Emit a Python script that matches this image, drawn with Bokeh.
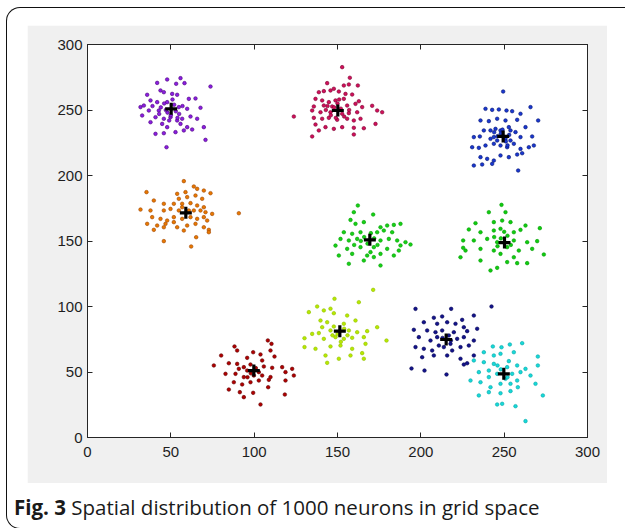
from bokeh.plotting import figure
from bokeh.layouts import column
from bokeh.models import Range1d, LinearAxis, FixedTicker, ColumnDataSource, Div
from bokeh.embed import file_html
from bokeh.resources import INLINE

# ---- data ----
purple = [(47.8,273.3),(55.8,274.3),(41.8,270.7),(53.2,270.0),(58.2,270.5),(73.8,267.9),(43.8,264.9),(45.8,263.6),(50.8,262.3),(35.8,261.6),(53.8,261.6),(60.8,258.5),(64.8,258.8),(37.8,257.3),(41.8,256.0),(47.8,256.0),(31.8,252.2),(33.8,253.4),(36.8,249.6),(42.8,249.6),(54.8,252.2),(59.8,250.9),(67.8,251.7),(32.8,245.8),(40.8,244.5),(45.8,243.3),(49.8,244.5),(53.8,242.0),(56.8,243.3),(61.8,245.0),(37.8,240.7),(44.8,239.4),(55.8,239.4),(59.8,236.9),(47.8,236.9),(40.8,231.8),(45.8,232.3),(52.8,233.1),(57.8,234.4),(62.8,235.1),(69.8,236.9),(70.8,227.2),(47.4,221.6),(65.8,243.3),(44.0,252.0),(48.0,248.0),(52.0,254.0),(46.0,255.0),(55.0,247.0),(50.0,246.0),(43.0,247.0),(57.0,253.0),(51.0,258.0),(49.0,242.0),(54.0,244.0),(39.0,253.0),(47.0,250.0),(53.0,249.0)]
crimson = [(152.8,282.7),(157.4,274.6),(143.8,270.5),(147.8,266.2),(153.8,268.7),(156.8,269.5),(162.2,268.7),(138.8,263.6),(141.8,264.4),(145.8,264.9),(150.8,264.1),(154.8,262.3),(158.8,261.8),(136.8,258.5),(140.8,257.3),(144.8,256.0),(148.8,257.3),(153.8,258.5),(162.8,256.7),(135.8,252.7),(141.8,253.4),(146.8,252.7),(155.8,253.4),(160.8,254.7),(164.8,252.2),(170.8,253.2),(134.8,249.6),(139.8,248.3),(145.8,248.3),(152.8,247.1),(156.8,247.6),(161.8,248.3),(173.8,249.6),(176.8,248.3),(123.8,245.0),(135.8,244.0),(140.8,243.3),(144.8,244.0),(149.8,242.5),(155.8,243.3),(159.8,242.0),(163.8,243.3),(172.8,239.4),(136.8,238.9),(142.8,236.9),(147.8,235.6),(152.8,236.9),(159.8,236.4),(165.8,236.1),(138.8,234.4),(134.8,229.8),(159.8,231.3),(148,252),(152,251),(146,246),(154,245),(150,255),(143,250),(157,250),(149,244),(144,253),(151,258)]
blue = [(249.4,264.1),(238.8,250.9),(242.8,250.1),(246.8,250.4),(251.4,249.6),(254.8,249.1),(259.8,247.1),(265.8,252.2),(270.4,242.0),(235.8,242.0),(240.8,241.5),(245.8,243.3),(250.8,242.0),(257.8,242.5),(262.8,236.9),(231.8,229.3),(235.4,229.8),(237.8,234.4),(241.8,234.4),(244.8,235.6),(247.8,234.4),(253.8,234.4),(256.8,233.1),(259.8,229.3),(266.8,229.8),(230.8,221.6),(234.8,221.1),(238.8,222.9),(243.8,224.2),(247.8,222.9),(251.8,221.6),(255.8,224.2),(259.8,220.3),(264.8,221.6),(267.8,222.9),(235.8,214.0),(239.8,212.7),(243.8,211.4),(247.8,215.3),(252.8,214.0),(257.8,216.0),(260.8,217.0),(231.8,207.6),(236.8,208.4),(242.8,208.9),(258.4,203.8),(245.8,226.7),(250.8,228.0),(253.8,226.7),(243.8,229.3),(252.8,236.9),(241.8,228.0),(248,232),(251,226),(246,230),(253,231),(249,235),(244,233),(252,223)]
orange = [(57.8,195.7),(63.8,191.6),(53.8,186.0),(58.8,187.3),(65.8,189.8),(69.8,188.5),(73.8,186.5),(35.4,187.3),(39.8,180.9),(54.8,182.2),(59.8,183.5),(64.8,184.7),(68.8,182.2),(45.8,178.4),(51.8,178.4),(56.8,178.4),(61.8,178.9),(65.8,177.1),(69.8,175.8),(31.8,174.0),(37.8,173.3),(45.8,173.3),(49.8,174.5),(54.8,173.3),(63.8,173.3),(67.8,173.3),(70.8,172.0),(74.8,170.7),(90.8,171.2),(38.8,168.2),(43.8,166.9),(47.8,165.6),(51.8,164.4),(56.8,166.9),(61.8,168.2),(65.8,166.9),(69.8,168.2),(71.8,165.6),(35.8,163.1),(41.8,161.8),(46.8,163.1),(53.8,160.5),(59.8,161.8),(64.8,163.1),(69.8,160.5),(72.8,158.5),(39.8,158.5),(45.8,160.5),(57.8,158.0),(72.8,156.7),(45.8,149.9),(65.2,152.9),(62.2,145.8),(51.8,168.2),(56.8,175.8),(60.8,173.3)]
green1 = [(162.2,177.1),(159.8,172.0),(171.4,170.2),(157.8,166.1),(160.8,163.1),(165.8,164.4),(175.8,160.5),(179.8,161.8),(183.8,162.3),(187.8,163.1),(153.8,156.7),(158.8,155.5),(163.8,156.7),(173.8,156.7),(177.8,158.0),(182.8,156.7),(151.8,151.6),(156.8,150.4),(161.8,151.6),(175.8,150.4),(180.8,151.6),(185.8,150.4),(190.8,149.1),(193.8,147.3),(148.8,146.5),(155.8,144.0),(163.8,145.3),(171.8,145.3),(179.8,144.0),(186.8,142.7),(150.8,138.9),(158.8,140.2),(167.8,138.9),(175.8,140.2),(183.8,138.9),(156.8,132.6),(165.8,135.1),(175.8,131.3),(171.8,137.7),(169.8,141.5),(187.8,146.6),(166,153),(172,152),(168,148),(164,150),(174,147),(170,156),(160,147)]
green2 = [(248.4,177.6),(240.8,172.0),(250.8,172.0),(232.8,163.6),(243.8,164.4),(248.8,165.6),(253.8,164.4),(262.8,161.8),(271.4,159.8),(228.8,158.8),(235.8,156.7),(243.8,158.0),(247.8,159.3),(255.8,156.7),(259.8,158.5),(225.4,150.4),(231.8,150.4),(239.8,151.6),(245.8,149.1),(255.8,150.4),(263.8,149.1),(269.8,149.9),(226.8,142.7),(235.8,144.0),(243.8,142.7),(251.8,145.3),(258.8,142.7),(266.8,144.0),(273.8,139.7),(223.8,137.6),(255.8,137.6),(225.4,144.8),(235.8,135.1),(241.8,127.5),(245.8,129.5),(251.8,133.9),(257.8,133.1),(263.8,133.1),(247.8,140.2),(248,152),(252,154),(246,146),(254,147),(250,157),(244,153)]
lime = [(171.4,112.7),(148.2,105.9),(137.8,100.0),(145.8,98.3),(162.8,103.3),(132.8,95.7),(141.8,97.0),(147.8,94.9),(155.8,93.1),(160.8,89.3),(139.8,89.3),(143.8,88.0),(173.8,84.2),(134.8,79.1),(138.8,79.7),(145.8,81.7),(156.8,81.7),(161.8,80.4),(167.8,81.2),(130.2,75.8),(141.8,75.3),(148.8,76.6),(153.8,75.3),(158.8,76.1),(165.8,76.6),(179.4,74.0),(130.2,69.0),(136.8,67.7),(145.8,69.5),(151.8,70.2),(158.8,67.7),(166.8,71.5),(142.8,62.6),(150.8,60.1),(157.8,62.6),(164.8,64.4),(165.8,60.1),(143.8,57.0),(147.8,84.7),(153.8,86.8),(140.8,84.2),(150,79),(154,83),(147,78),(156,78),(152,73)]
navy = [(196.8,98.2),(218.2,98.2),(242.4,100.0),(207.8,91.4),(212.8,92.4),(224.8,89.8),(231.8,93.1),(201.8,88.0),(209.8,86.8),(215.8,88.0),(220.8,86.8),(225.8,84.2),(195.8,82.2),(203.8,81.7),(208.8,80.4),(219.8,80.4),(227.8,81.2),(233.8,83.0),(198.8,76.6),(205.8,74.0),(209.8,76.6),(221.8,75.3),(225.8,76.6),(231.8,74.0),(196.8,69.0),(201.8,67.7),(206.8,66.4),(213.8,69.0),(218.8,66.4),(223.8,69.0),(228.8,70.2),(200.8,61.3),(207.8,62.6),(215.8,62.6),(223.8,60.1),(227.8,56.7),(231.8,62.6),(194.4,52.7),(202.2,51.1),(215.4,48.1),(225.8,55.7),(212.8,81.7),(217.8,71.5),(210.8,70.2),(216.8,77.9),(213,76),(218,74)]
cyan = [(243.2,69.5),(248.4,68.9),(253.4,71.0),(260.8,72.0),(237.8,65.1),(243.8,62.6),(247.8,63.9),(255.8,65.1),(231.8,58.8),(237.8,57.5),(243.8,56.2),(252.8,58.3),(257.8,55.0),(262.8,52.4),(270.2,61.8),(270.2,55.0),(234.8,49.9),(240.8,51.1),(245.8,48.6),(254.8,48.6),(259.8,49.9),(265.8,47.3),(229.8,43.5),(235.8,42.2),(241.8,38.4),(247.8,41.0),(253.8,41.0),(258.2,38.4),(268.8,41.0),(234.8,32.1),(240.8,34.6),(247.8,33.8),(253.8,35.4),(273.2,32.1),(245.8,25.2),(248.8,25.7),(256.8,23.9),(262.8,12.5),(251.8,53.7),(240.8,46.1),(257.8,43.5),(250.8,44.8),(248,52),(252,46),(246,55)]
red = [(108.2,74.1),(110.4,71.5),(88.2,69.5),(89.8,66.4),(99.4,65.1),(103.8,63.4),(109.8,66.4),(80.2,62.6),(112.2,61.8),(95.8,60.8),(104.8,58.8),(84.8,56.7),(89.8,56.2),(75.8,55.0),(93.8,53.7),(97.8,55.7),(105.8,54.2),(110.8,53.2),(116.8,53.7),(122.8,52.4),(82.8,48.6),(88.8,48.6),(93.8,46.1),(99.8,47.3),(104.8,47.3),(109.8,46.1),(118.8,49.9),(123.8,47.3),(87.8,42.2),(92.8,40.5),(97.8,42.2),(102.8,43.5),(108.8,44.0),(118.8,43.5),(84.8,36.6),(91.4,34.6),(99.4,34.1),(108.4,38.4),(93.8,30.8),(118.4,32.8),(103.8,25.2),(95.8,51.1),(102.8,49.9),(90.8,52.4),(98,49),(101,53),(96,46)]

centroid_x = [50.2, 150.2, 249.4, 59.0, 169.4, 250.2, 151.4, 215.2, 249.8, 99.8]
centroid_y = [250.9, 249.6, 229.8, 171.5, 150.9, 148.8, 81.2, 74.8, 48.6, 51.1]

tick_values = [0, 50, 100, 150, 200, 250, 300]
caption_bold = "Fig. 3"
caption_text = "Spatial distribution of 1000 neurons in grid space"

clusters = [purple, crimson, blue, orange, green1, green2, lime, navy, cyan, red]
fills = ["#8a1ee0", "#d0105a", "#1a38d0", "#e87800", "#18d018", "#10cc10", "#b8e800", "#14148c", "#18d8d8", "#b00000"]
edges = ["#4a007a", "#7a0030", "#001070", "#a04400", "#00a000", "#009a00", "#90c000", "#000050", "#00a8a8", "#600000"]

# ---- figure: the grey MATLAB figure area ----
p = figure(width=580, height=458, x_range=Range1d(0, 300), y_range=Range1d(0, 300),
           output_backend="svg", toolbar_location=None,
           min_border_left=60, min_border_right=20, min_border_top=19, min_border_bottom=46,
           styles={"margin-left": "20px"})
p.grid.visible = False
p.background_fill_color = "white"
p.border_fill_color = "#f0f0f0"
p.outline_line_color = "#262626"
p.outline_line_width = 1

ticker = FixedTicker(ticks=tick_values)
for ax in (p.xaxis[0], p.yaxis[0]):
    ax.ticker = ticker
    ax.major_tick_in = 5
    ax.major_tick_out = 0
    ax.minor_tick_line_color = None
    ax.axis_line_color = "#262626"
    ax.major_tick_line_color = "#262626"
    ax.major_label_text_font = "Liberation Sans"
    ax.major_label_text_font_size = "15px"
    ax.major_label_text_color = "#1e1e1e"
p.xaxis[0].major_label_standoff = 9
p.yaxis[0].major_label_standoff = 5

for side in ("above", "right"):
    ax = LinearAxis(ticker=FixedTicker(ticks=tick_values), major_tick_in=5, major_tick_out=0,
                    minor_tick_line_color=None, axis_line_color="#262626",
                    major_tick_line_color="#262626", major_label_text_color=None,
                    major_label_text_font_size="1px")
    p.add_layout(ax, side)

for pts, fc, lc in zip(clusters, fills, edges):
    src = ColumnDataSource(dict(x=[a for a, b in pts], y=[b for a, b in pts]))
    p.scatter("x", "y", source=src, marker="circle", size=3.6, fill_color=fc,
              line_color=lc, line_width=0.6)

p.scatter(centroid_x, centroid_y, marker="cross", size=12, line_width=3.2, line_color="black")

cap = Div(text="<b>" + caption_bold + "</b> " + caption_text, width=610, height=28,
          styles={"font-family": "'Open Sans'", "font-size": "20.5px", "color": "#1a1a1a",
                  "margin-left": "7px", "margin-top": "10px", "white-space": "nowrap",
                  "line-height": "28px"})

layout = column(p, cap, styles={"margin-left": "6px", "margin-top": "7px",
                                "padding-top": "17px", "padding-bottom": "2px",
                                "border": "1.4px solid #111111", "border-right": "none",
                                "border-radius": "14px 0 0 14px", "width": "619px"})

open("out.html", "w").write(file_html(layout, INLINE))
